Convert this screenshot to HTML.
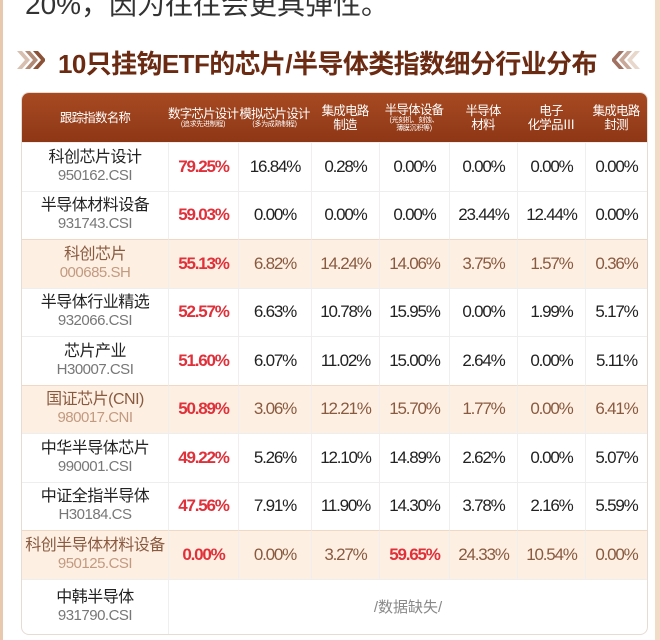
<!DOCTYPE html>
<html><head><meta charset="utf-8"><style>
*{margin:0;padding:0;box-sizing:border-box}
body{width:660px;height:640px;overflow:hidden;background:#fff;position:relative;font-family:"Liberation Sans","Noto Sans CJK SC",sans-serif}
.sl{position:absolute;left:0;top:0;width:3px;height:640px;background:#e8c9ad}
.sr{position:absolute;right:0;top:0;width:5px;height:640px;background:#f1dcc8}
.top{position:absolute;left:25px;top:-17px;font-size:28px;color:#333;white-space:nowrap}
.title{position:absolute;left:58px;top:44px;font-size:26px;font-weight:bold;color:#6b2a12;white-space:nowrap;letter-spacing:-0.6px}
.chev{position:absolute;top:49px;width:28px;height:22px}
table{position:absolute;left:21px;top:92px;width:625px;border-collapse:separate;border-spacing:0;border:1px solid #e6dcd4;border-radius:8px;overflow:hidden;table-layout:fixed}
th{background:linear-gradient(#a74a22,#8e3716);color:#fff;font-weight:normal;font-size:12.5px;height:49px;line-height:14px;text-align:center;vertical-align:middle;white-space:nowrap;letter-spacing:-0.8px}
th small{display:block;font-size:7px;line-height:8px;letter-spacing:-0.3px}
td{height:48.5px;text-align:center;font-size:17px;color:#222;border-top:1px solid #eee;border-left:1px solid #f0eeee;letter-spacing:-1.2px;white-space:nowrap}
td:first-child{border-left:none;font-size:16px;line-height:18px;letter-spacing:-0.5px}
td .c{display:block;color:#777;font-size:15px}
.r{color:#e0303a;font-weight:bold}
tr.h td{background:#fdf0e3;color:#8a5a40;border-top:1px solid #f0d8c4}
tr.h td .c{color:#c39a80}
tr.h td.r{color:#e0303a}
</style></head><body>
<div class="sl"></div><div class="sr"></div>
<div class="top">20%，因为往往会更具弹性。</div>
<svg class="chev" style="left:17px" viewBox="0 0 28 22"><path d="M0 2h5l8 9-8 9H0l8-9z" fill="#d8c0b0"/><path d="M8 2h5l8 9-8 9H8l8-9z" fill="#b08a74"/><path d="M16 2h5l8 9-8 9h-5l8-9z" fill="#8a5236"/></svg>
<div class="title">10只挂钩ETF的芯片/半导体类指数细分行业分布</div>
<svg class="chev" style="left:612px" viewBox="0 0 28 22"><path d="M28 2h-5l-8 9 8 9h5l-8-9z" fill="#e8d8cc"/><path d="M20 2h-5l-8 9 8 9h5l-8-9z" fill="#c8a898"/><path d="M12 2H7l-8 9 8 9h5l-8-9z" fill="#a07060"/></svg>
<table>
<colgroup><col style="width:146px"><col style="width:70px"><col style="width:73px"><col style="width:68px"><col style="width:70px"><col style="width:68px"><col style="width:68px"><col style="width:62px"></colgroup>
<tr><th>跟踪指数名称</th><th>数字芯片设计<small>(追求先进制程)</small></th><th>模拟芯片设计<small>(多为成熟制程)</small></th><th>集成电路<br>制造</th><th>半导体设备<small>(光刻机、刻蚀、<br>薄膜沉积等)</small></th><th>半导体<br>材料</th><th>电子<br>化学品Ⅲ</th><th>集成电路<br>封测</th></tr>
<tr><td>科创芯片设计<span class="c">950162.CSI</span></td><td class="r">79.25%</td><td>16.84%</td><td>0.28%</td><td>0.00%</td><td>0.00%</td><td>0.00%</td><td>0.00%</td></tr>
<tr><td>半导体材料设备<span class="c">931743.CSI</span></td><td class="r">59.03%</td><td>0.00%</td><td>0.00%</td><td>0.00%</td><td>23.44%</td><td>12.44%</td><td>0.00%</td></tr>
<tr class="h"><td>科创芯片<span class="c">000685.SH</span></td><td class="r">55.13%</td><td>6.82%</td><td>14.24%</td><td>14.06%</td><td>3.75%</td><td>1.57%</td><td>0.36%</td></tr>
<tr><td>半导体行业精选<span class="c">932066.CSI</span></td><td class="r">52.57%</td><td>6.63%</td><td>10.78%</td><td>15.95%</td><td>0.00%</td><td>1.99%</td><td>5.17%</td></tr>
<tr><td>芯片产业<span class="c">H30007.CSI</span></td><td class="r">51.60%</td><td>6.07%</td><td>11.02%</td><td>15.00%</td><td>2.64%</td><td>0.00%</td><td>5.11%</td></tr>
<tr class="h"><td>国证芯片(CNI)<span class="c">980017.CNI</span></td><td class="r">50.89%</td><td>3.06%</td><td>12.21%</td><td>15.70%</td><td>1.77%</td><td>0.00%</td><td>6.41%</td></tr>
<tr><td>中华半导体芯片<span class="c">990001.CSI</span></td><td class="r">49.22%</td><td>5.26%</td><td>12.10%</td><td>14.89%</td><td>2.62%</td><td>0.00%</td><td>5.07%</td></tr>
<tr><td>中证全指半导体<span class="c">H30184.CS</span></td><td class="r">47.56%</td><td>7.91%</td><td>11.90%</td><td>14.30%</td><td>3.78%</td><td>2.16%</td><td>5.59%</td></tr>
<tr class="h"><td>科创半导体材料设备<span class="c">950125.CSI</span></td><td class="r">0.00%</td><td>0.00%</td><td>3.27%</td><td class="r">59.65%</td><td>24.33%</td><td>10.54%</td><td>0.00%</td></tr>
<tr><td style="height:55px">中韩半导体<span class="c">931790.CSI</span></td><td colspan="7" style="color:#888;font-size:15px;letter-spacing:0">/数据缺失/</td></tr>
</table>
</body></html>
